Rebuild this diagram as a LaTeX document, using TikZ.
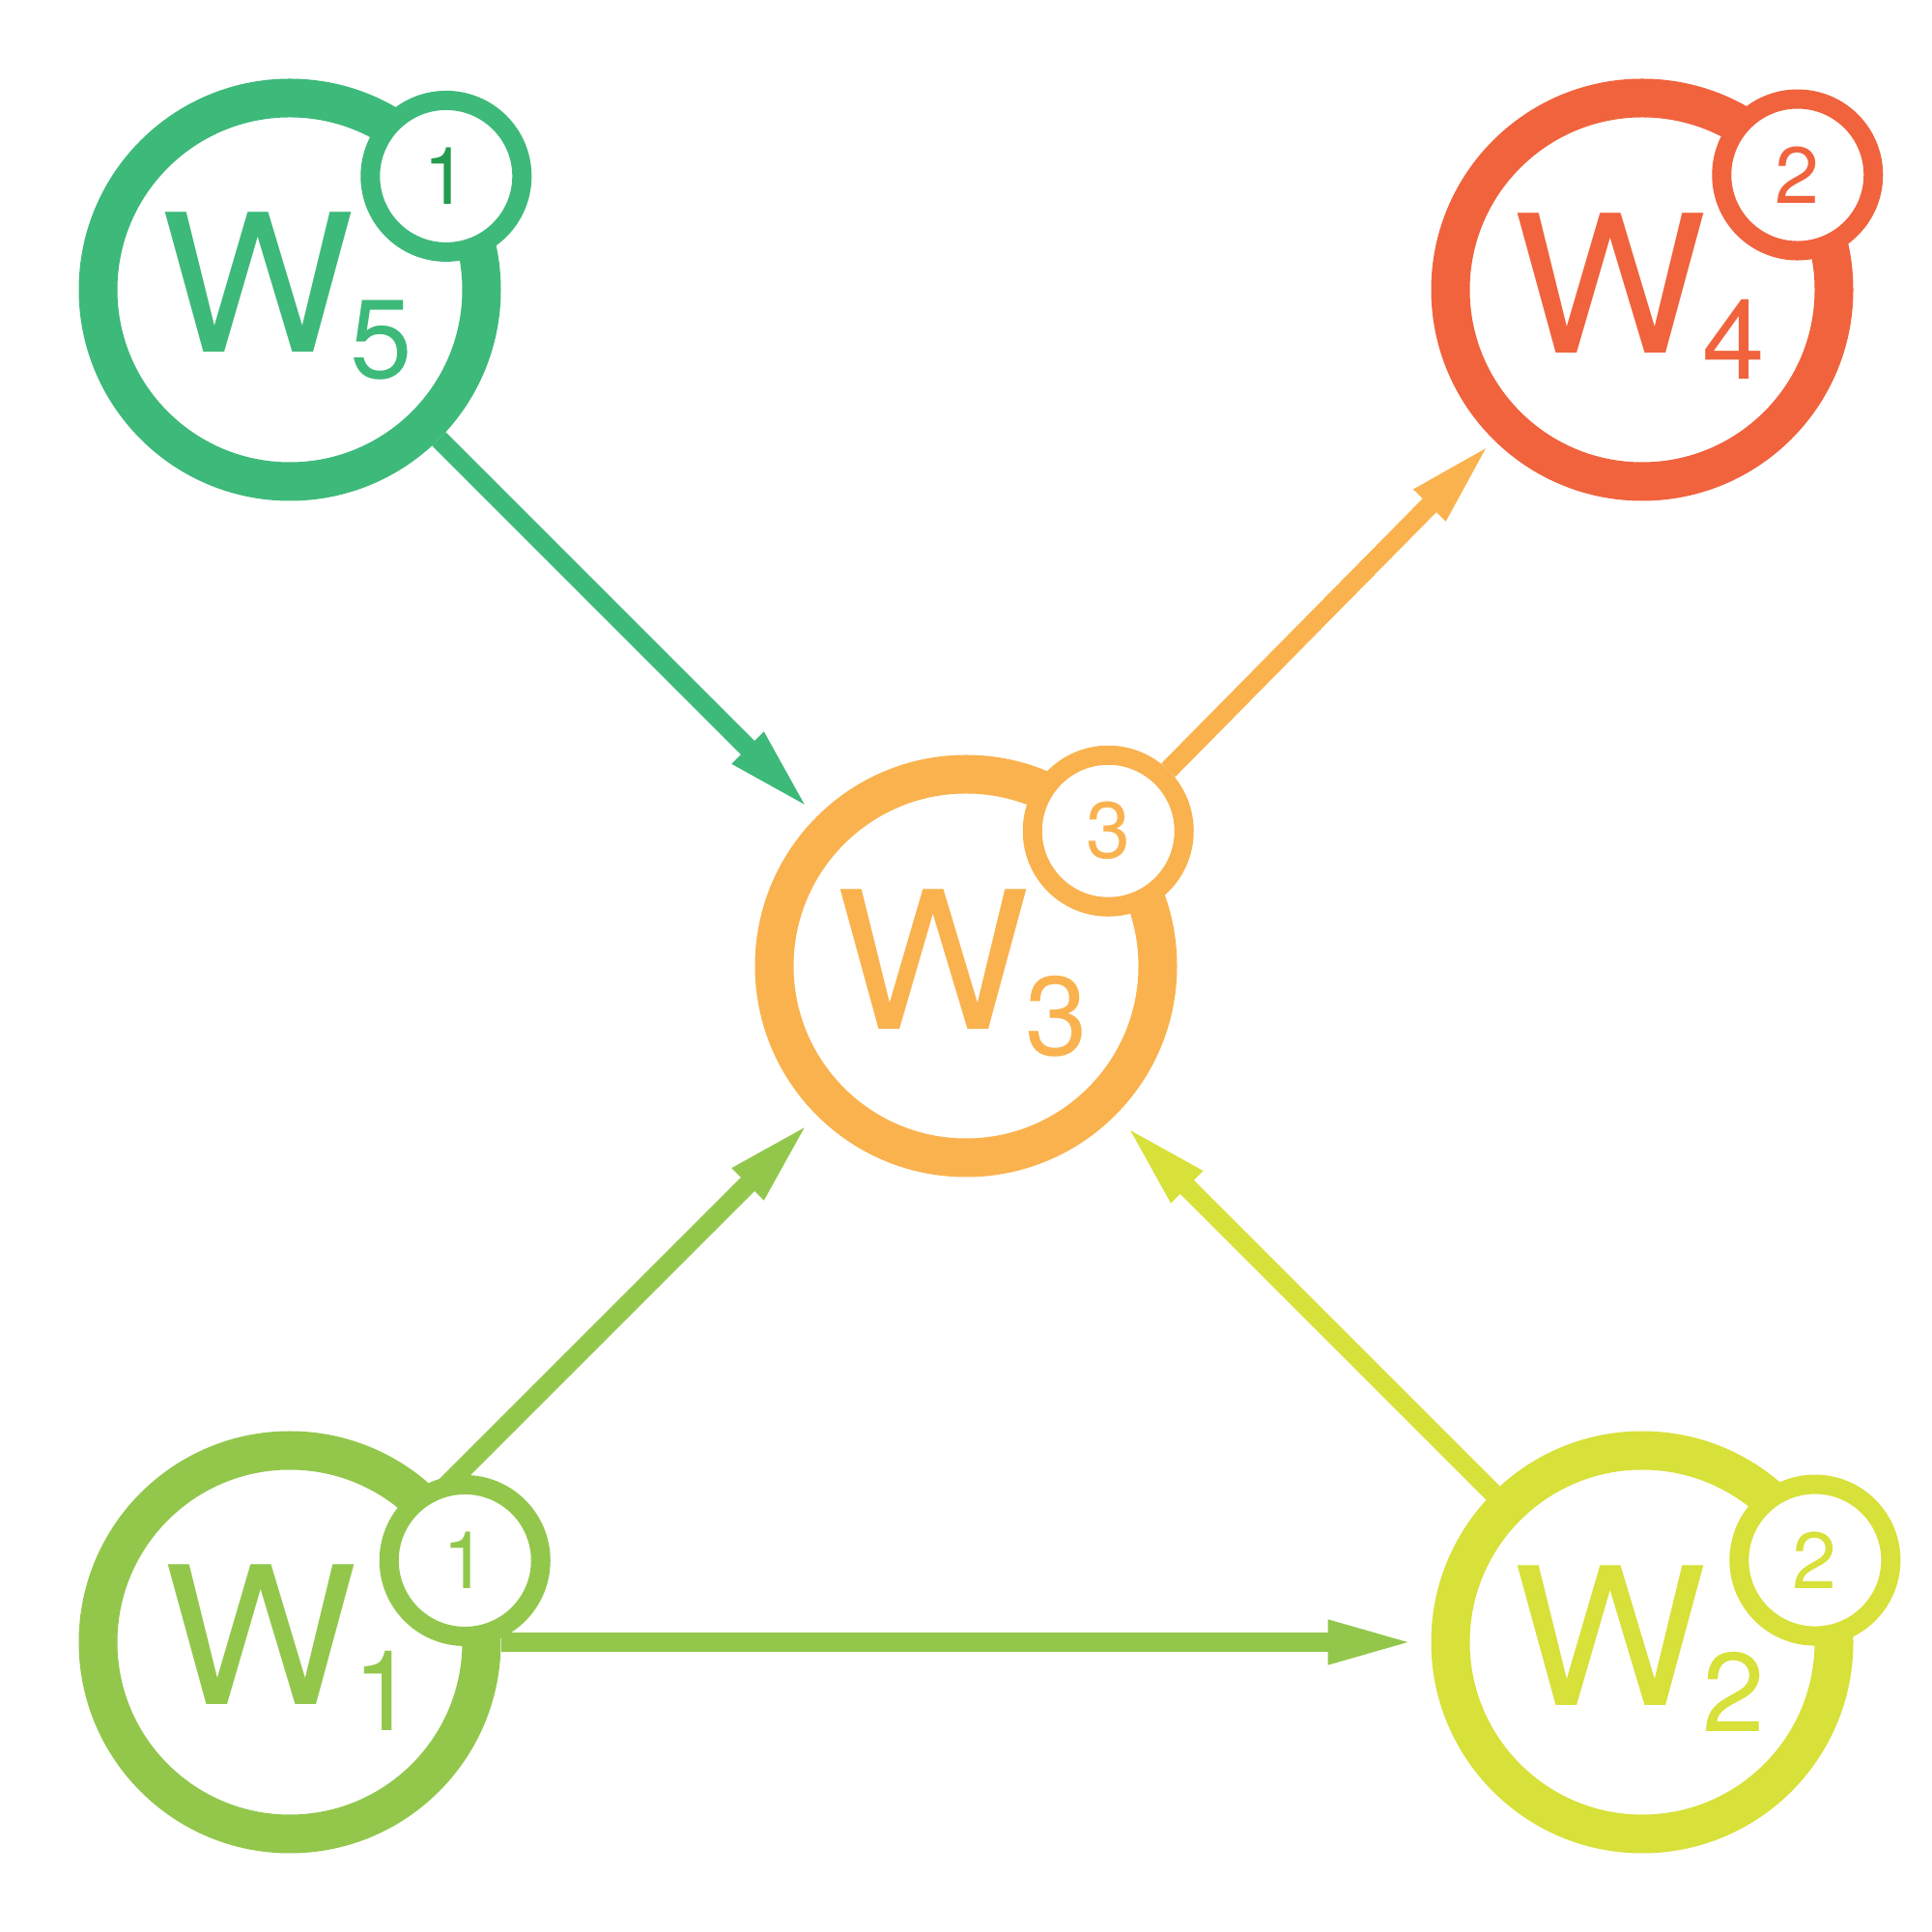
\documentclass[tikz,border=0pt]{standalone}
\usepackage{fontspec}
\setmainfont{TeX Gyre Heros}
\usetikzlibrary{arrows.meta,backgrounds,calc,positioning}
\definecolor{wgreen}{HTML}{3DB97A}
\definecolor{wdark}{HTML}{259B4F}
\definecolor{wlime}{HTML}{92C74C}
\definecolor{wyellow}{HTML}{D8E03A}
\definecolor{worange}{HTML}{FAB24E}
\definecolor{wred}{HTML}{F0633D}
\newcommand{\wname}[1]{\scalebox{1.07}[1]{W}\kern-0.5mm\raisebox{-2.7mm}{\fontsize{33}{33}\selectfont #1}}

\begin{document}
\begin{tikzpicture}
\tikzset{>={Triangle[length=9.5mm,width=4mm]},
  ring/.style={circle, draw=#1, fill=white, line width=4mm, minimum size=3.97cm, inner sep=0pt},
  badge/.style={circle, draw=#1, fill=white, text=#1, line width=2mm, minimum size=1.57cm, inner sep=0pt, font=\fontsize{23.5}{23.5}\selectfont},
  wlabel/.style={text=#1, anchor=base west, inner sep=0pt, font=\fontsize{56.5}{56.5}\selectfont},
  link/.style={->, draw=#1, line width=2mm, shorten >=1mm}}
  \useasboundingbox (0,0) rectangle (20,20);

  % hubs
  \node[ring=wgreen] (w5) at (3,17) {};
  \node[ring=wred] (w4) at (17,17) {};
  \node[ring=worange] (w3) at (10,10) {};
  \node[ring=wlime] (w1) at (3,3) {};
  \node[ring=wyellow] (w2) at (17,3) {};

  % badges
  \node[badge=wgreen, text=wdark] (b5) at ([shift={(36:2)}]w5.center) {1};
  \node[badge=wred] (b4) at ([shift={(36.5:2)}]w4.center) {2};
  \node[badge=worange] (b3) at ([shift={(43.5:2.03)}]w3.center) {3};
  \node[badge=wlime] (b1) at ([shift={(25:2)}]w1.center) {1};
  \node[badge=wyellow] (b2) at ([shift={(25.4:1.98)}]w2.center) {2};

  % labels
  \node[wlabel=wgreen] (l5) at ([shift={(-1.34,-0.645)}]w5.center) {\wname{5}};
  \node[wlabel=wred] (l4) at ([shift={(-1.34,-0.655)}]w4.center) {\wname{4}};
  \node[wlabel=worange] (l3) at ([shift={(-1.35,-0.66)}]w3.center) {\wname{3}};
  \node[wlabel=wlime] (l1) at ([shift={(-1.31,-0.645)}]w1.center) {\wname{1}};
  \node[wlabel=wyellow] (l2) at ([shift={(-1.34,-0.655)}]w2.center) {\wname{2}};

  % connectors, behind the rings
  \begin{scope}[on background layer]
    \draw[link=wgreen, shorten >=0.6mm] (w5) -- (w3);
    \draw[link=worange, shorten >=0pt] (b3) -- (w4);
    \draw[link=wlime, shorten >=0.6mm] (w1) -- (w3);
    \draw[link=wyellow] (w2) -- (w3);
    \draw[link=wlime, shorten >=1.2mm] (w1) -- (w2);
  \end{scope}
\end{tikzpicture}
\end{document}
